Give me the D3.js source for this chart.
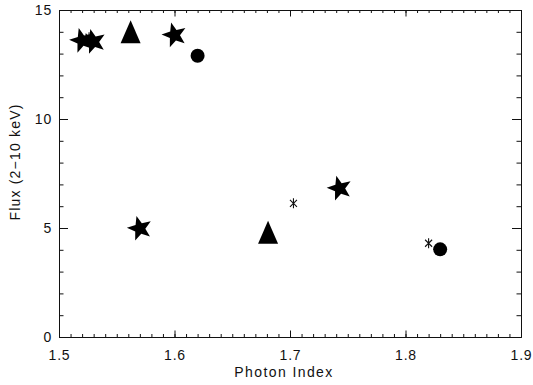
<!DOCTYPE html>
<html>
<head>
<meta charset="utf-8">
<script src="https://cdn.jsdelivr.net/npm/d3@7"></script>
<style>
  body { margin: 0; background: #fff; }
  text { font-family: "Liberation Sans", Arial, sans-serif; fill: #111; }
</style>
</head>
<body>
<div class="container"></div>
<script>
// values
const starX = [1.52, 1.53, 1.60, 1.57, 1.743];
const starY = [13.6, 13.55, 13.85, 4.98, 6.82];
const triX = [1.562, 1.681];
const triY = [14.0, 4.8];
const circX = [1.62, 1.83];
const circY = [12.9, 4.02];
const astX = [1.526, 1.703, 1.82];
const astY = [13.75, 6.13, 4.3];

const xTicks = [1.5, 1.6, 1.7, 1.8, 1.9];
const yTicks = [0, 5, 10, 15];

const width = 533;
const height = 385;
const margin = { left: 59, right: 12, top: 10, bottom: 48 };
const chartWidth = width - margin.left - margin.right;
const chartHeight = height - margin.top - margin.bottom;

const svg = d3.select('.container').append('svg').attr('width', width).attr('height', height);
const chart = svg.append('g').attr('transform', `translate(${margin.left},${margin.top})`);

const xScale = d3.scaleLinear().domain([1.5, 1.9]).range([0, chartWidth]);
const yScale = d3.scaleLinear().domain([0, 15]).range([chartHeight, 0]);

const xMinor = d3.range(1.5, 1.9001, 0.01);
const yMinor = d3.range(0, 15.001, 1);

const styleAxis = g => {
  g.selectAll('path').attr('stroke', '#111');
  g.selectAll('line').attr('stroke', '#111');
  g.selectAll('text').attr('font-size', 14).attr('fill', '#111').attr('letter-spacing', 0.8)
    .style('font-family', '"Liberation Sans", Arial, sans-serif');
};

// bottom
chart.append('g').attr('transform', `translate(0,${chartHeight})`)
  .call(d3.axisBottom(xScale).tickValues(xMinor).tickSize(-3).tickSizeOuter(0).tickFormat(''))
  .call(styleAxis);
chart.append('g').attr('transform', `translate(0,${chartHeight})`)
  .call(d3.axisBottom(xScale).tickValues(xTicks).tickSize(-6.5).tickSizeOuter(0).tickPadding(13).tickFormat(d3.format('.1f')))
  .call(styleAxis);
// top
chart.append('g')
  .call(d3.axisTop(xScale).tickValues(xMinor).tickSize(-3).tickSizeOuter(0).tickFormat(''))
  .call(styleAxis);
chart.append('g')
  .call(d3.axisTop(xScale).tickValues(xTicks).tickSize(-6.5).tickSizeOuter(0).tickFormat(''))
  .call(styleAxis);
// left
chart.append('g')
  .call(d3.axisLeft(yScale).tickValues(yMinor).tickSize(-4.5).tickSizeOuter(0).tickFormat(''))
  .call(styleAxis);
chart.append('g')
  .call(d3.axisLeft(yScale).tickValues(yTicks).tickSize(-9).tickSizeOuter(0).tickPadding(7))
  .call(styleAxis);
// right
chart.append('g').attr('transform', `translate(${chartWidth},0)`)
  .call(d3.axisRight(yScale).tickValues(yMinor).tickSize(-4.5).tickSizeOuter(0).tickFormat(''))
  .call(styleAxis);
chart.append('g').attr('transform', `translate(${chartWidth},0)`)
  .call(d3.axisRight(yScale).tickValues(yTicks).tickSize(-9).tickSizeOuter(0).tickFormat(''))
  .call(styleAxis);

// symbols
const starPath = (r1, r2, rot) => {
  const pts = [];
  for (let i = 0; i < 10; i++) {
    const a = (rot + i * 36) * Math.PI / 180;
    const r = i % 2 === 0 ? r1 : r2;
    pts.push([r * Math.sin(a), -r * Math.cos(a)]);
  }
  return 'M' + pts.map(p => p.join(',')).join('L') + 'Z';
};

const zip = (xs, ys) => xs.map((x, i) => ({ x, y: ys[i] }));

const points = chart.append('g');

points.selectAll('.ast').data(zip(astX, astY)).enter().append('path')
  .attr('class', 'ast')
  .attr('transform', d => `translate(${xScale(d.x)},${yScale(d.y)})`)
  .attr('d', 'M0,-5L0,5M-3.5,-3.5L3.5,3.5M-3.5,3.5L3.5,-3.5')
  .attr('stroke', '#111')
  .attr('stroke-width', 1.1)
  .attr('fill', 'none');

points.selectAll('.star').data(zip(starX, starY)).enter().append('path')
  .attr('class', 'star')
  .attr('transform', d => `translate(${xScale(d.x)},${yScale(d.y)})`)
  .attr('d', starPath(13, 5.5, -15))
  .attr('fill', '#000');

points.selectAll('.tri').data(zip(triX, triY)).enter().append('path')
  .attr('class', 'tri')
  .attr('transform', d => `translate(${xScale(d.x)},${yScale(d.y)})`)
  .attr('d', 'M-10,11.5L10,11.5L0,-11.5Z')
  .attr('fill', '#000');

points.selectAll('.circ').data(zip(circX, circY)).enter().append('circle')
  .attr('class', 'circ')
  .attr('cx', d => xScale(d.x))
  .attr('cy', d => yScale(d.y))
  .attr('r', 7)
  .attr('fill', '#000');

// titles
svg.append('text')
  .text('Photon Index')
  .attr('x', 284)
  .attr('y', 377)
  .attr('text-anchor', 'middle')
  .attr('font-size', 14)
  .attr('letter-spacing', 1.4);

svg.append('text')
  .text('Flux (2\u221210 keV)')
  .attr('transform', 'translate(20,162) rotate(-90)')
  .attr('text-anchor', 'middle')
  .attr('font-size', 14)
  .attr('letter-spacing', 1.2);
</script>
</body>
</html>
